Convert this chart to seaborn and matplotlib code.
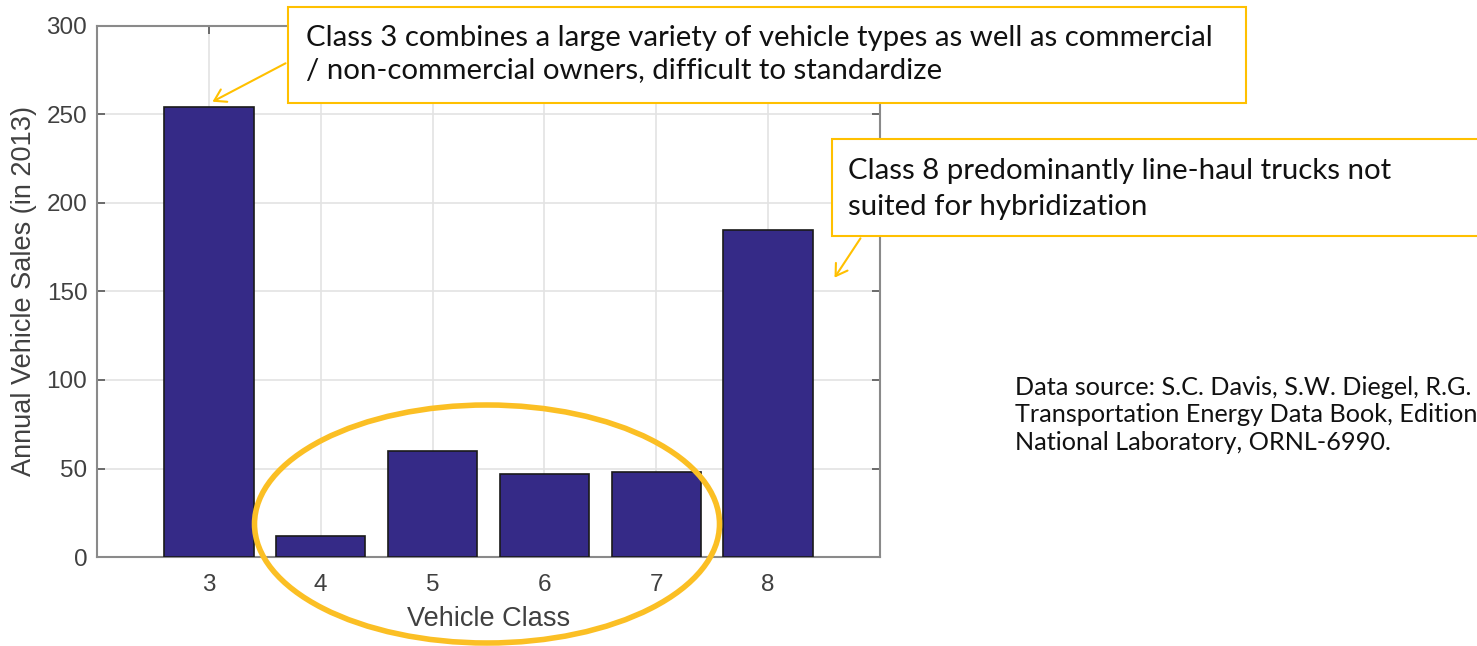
import matplotlib
matplotlib.use("Agg")
import matplotlib.pyplot as plt
import seaborn as sns
import pandas as pd
from matplotlib.patches import Rectangle, Ellipse, FancyArrowPatch

# Annual vehicle sales by class (thousands, 2013)
vehicle_class = [3, 4, 5, 6, 7, 8]
annual_sales = [254, 12, 60, 47, 48, 185]
y_ticks = [0, 50, 100, 150, 200, 250, 300]

note_class3 = ("Class 3 combines a large variety of vehicle types as well as commercial\n"
               "/ non-commercial owners, difficult to standardize")
note_class8 = ("Class 8 predominantly line-haul trucks not\n"
               "suited for hybridization")
source_note = ("Data source: S.C. Davis, S.W. Diegel, R.G. Boundy,\n"
               "Transportation Energy Data Book, Edition 33, Oak Ridge\n"
               "National Laboratory, ORNL-6990.")

df = pd.DataFrame({"cls": vehicle_class, "sales": annual_sales})

sns.set_theme(style="white")
plt.rcParams["font.family"] = ["Liberation Sans", "DejaVu Sans"]

W, H = 1477, 646
fig = plt.figure(figsize=(W / 100, H / 100), dpi=100)
ax = fig.add_axes([97 / W, 1 - 557 / H, (880 - 97) / W, (557 - 26) / H])

sns.barplot(data=df, x="cls", y="sales", native_scale=True, width=0.8,
            color="#352a87", saturation=1, edgecolor="#1a1a1a", linewidth=1.2,
            ax=ax, zorder=3)

ax.set_xlim(2, 9)
ax.set_ylim(0, 300)
ax.set_xticks(vehicle_class)
ax.set_xticklabels([str(c) for c in vehicle_class])
ax.set_yticks(y_ticks)
ax.grid(True, color="#e3e3e3", linewidth=1.2, zorder=0)
ax.set_axisbelow(True)
for s in ax.spines.values():
    s.set_color("#8a8a8a")
    s.set_linewidth(1.5)
    s.set_visible(True)
ax.tick_params(axis="both", direction="in", length=6, width=1.2, color="#555555",
               labelsize=17.5, labelcolor="#404040", top=True, right=True,
               bottom=True, left=True)
ax.tick_params(axis="x", pad=12.5)
ax.tick_params(axis="y", pad=7)
ax.set_xlabel("Vehicle Class", fontsize=19.5, color="#404040", labelpad=7)
ax.set_ylabel("Annual Vehicle Sales (in 2013)", fontsize=19.5, color="#404040", labelpad=7)

# Overlay in pixel coordinates for the callouts
ov = fig.add_axes([0, 0, 1, 1], facecolor="none")
ov.set_xlim(0, W)
ov.set_ylim(H, 0)
ov.axis("off")

gold = "#FFC000"
note_font = ["Lato", "DejaVu Sans"]

ov.add_patch(Rectangle((288, 7), 1246 - 288, 103 - 7, facecolor="white",
                       edgecolor=gold, linewidth=1.5, zorder=5))
ov.text(306, 54, note_class3, fontsize=21.2, family=note_font, color="#111111",
        va="center", ha="left", linespacing=1.3, zorder=6)
ov.add_patch(FancyArrowPatch((288, 62), (210, 103), arrowstyle="->,head_length=8,head_width=5",
                             color=gold, linewidth=1.5, zorder=6))

ov.add_patch(Rectangle((832, 139), 700, 236 - 139, facecolor="white",
                       edgecolor=gold, linewidth=1.5, zorder=5))
ov.text(848, 189, note_class8, fontsize=21.2, family=note_font, color="#111111",
        va="center", ha="left", linespacing=1.45, zorder=6)
ov.add_patch(FancyArrowPatch((862, 236), (833, 280), arrowstyle="->,head_length=8,head_width=5",
                             color=gold, linewidth=1.5, zorder=6))

ov.add_patch(Ellipse((487, 524), 465, 238, facecolor="none", edgecolor="#FBBF24",
                     linewidth=4, zorder=7))

ov.text(1015, 415, source_note, fontsize=18.2, family=note_font, color="#111111",
        va="center", ha="left", linespacing=1.25, zorder=6)

fig.savefig("out.png", dpi=100)
